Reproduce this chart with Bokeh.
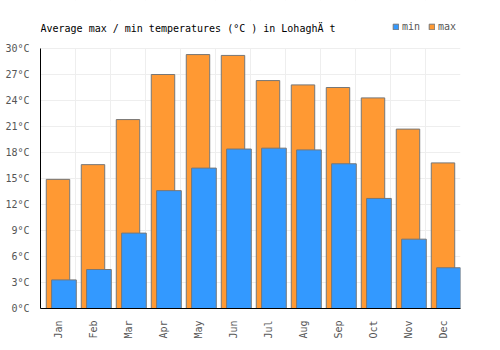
import math
from bokeh.plotting import figure
from bokeh.models import (Range1d, FixedTicker, PrintfTickFormatter, Label, Legend, LegendItem,
                          ColumnDataSource, BoxAnnotation)
from bokeh.embed import file_html
from bokeh.resources import INLINE

months = ["Jan", "Feb", "Mar", "Apr", "May", "Jun", "Jul", "Aug", "Sep", "Oct", "Nov", "Dec"]
t_max = [14.9, 16.6, 21.8, 27.0, 29.3, 29.2, 26.3, 25.8, 25.5, 24.3, 20.7, 16.8]
t_min = [3.3, 4.5, 8.7, 13.6, 16.2, 18.4, 18.5, 18.3, 16.7, 12.7, 8.0, 4.7]
y_ticks = [0, 3, 6, 9, 12, 15, 18, 21, 24, 27, 30]
title_text = "Average max / min temperatures (°C ) in LohaghÄ t"

FONT = "DejaVu Sans Mono"
idx = list(range(len(months)))
src = ColumnDataSource(dict(
    xmax=[i + 0.5 for i in idx],
    xmin=[i + 0.67 for i in idx],
    tmax=t_max, tmin=t_min, zero=[0] * len(idx)))

# frame spans from canvas top (y=0) down to y=308; 30°C sits at y=48
FRAME_H = 308
y_top = 30 * FRAME_H / 260.0

p = figure(width=500, height=350, output_backend="svg", toolbar_location=None,
           title_location=None,
           x_range=Range1d(0, 12), y_range=Range1d(0, y_top),
           min_border_left=40, min_border_right=40, min_border_top=0, min_border_bottom=42,
           frame_width=420, frame_height=FRAME_H)
p.outline_line_color = None
p.background_fill_color = "white"
p.border_fill_color = "white"

r_max = p.vbar(x="xmax", top="tmax", bottom="zero", width=0.67, source=src,
               fill_color="#ff9933", line_color="#777777", line_width=1)
r_min = p.vbar(x="xmin", top="tmin", bottom="zero", width=0.705, source=src,
               fill_color="#3399ff", line_color="#777777", line_width=1)

# grid
p.xgrid.ticker = FixedTicker(ticks=list(range(0, 13)))
p.ygrid.ticker = FixedTicker(ticks=y_ticks)
for g in (p.xgrid, p.ygrid):
    g.grid_line_color = "#eeeeee"
    g.grid_line_width = 1

# white cover over the area above the plot (title area)
p.add_layout(BoxAnnotation(bottom=30.06, fill_color="white", fill_alpha=1.0,
                           line_color=None, level="underlay"))

# axes
p.xaxis.ticker = FixedTicker(ticks=[i + 0.5 for i in idx])
p.xaxis.major_label_overrides = {i + 0.5: m for i, m in zip(idx, months)}
p.xaxis.major_label_orientation = math.pi / 2
p.yaxis.ticker = FixedTicker(ticks=y_ticks)
p.yaxis.formatter = PrintfTickFormatter(format="%d°C")
p.yaxis.bounds = (0, 30)
for ax in (p.xaxis, p.yaxis):
    ax.axis_line_color = "black"
    ax.axis_line_width = 1
    ax.major_tick_line_color = None
    ax.minor_tick_line_color = None
    ax.major_label_text_font = FONT
    ax.major_label_text_font_size = "10px"
    ax.major_label_text_color = "#555555"
p.xaxis.major_label_standoff = 6
p.yaxis.major_label_standoff = 5

# title
p.add_layout(Label(x=0, y=FRAME_H - 28, x_units="screen", y_units="screen", text=title_text,
                   text_font=FONT, text_font_size="10px", text_color="black",
                   text_baseline="alphabetic"))

legend = Legend(items=[LegendItem(label="min", renderers=[r_min]),
                       LegendItem(label="max", renderers=[r_max])],
                orientation="horizontal", location=(352, FRAME_H - 32),
                glyph_width=7, glyph_height=7, label_standoff=3, spacing=8,
                label_width=16,
                padding=0, margin=0, border_line_color=None, background_fill_alpha=0,
                label_text_font=FONT, label_text_font_size="10px", label_text_color="#555555",
                label_height=10)
p.add_layout(legend, "center")

open("out.html", "w").write(file_html(p, INLINE))
